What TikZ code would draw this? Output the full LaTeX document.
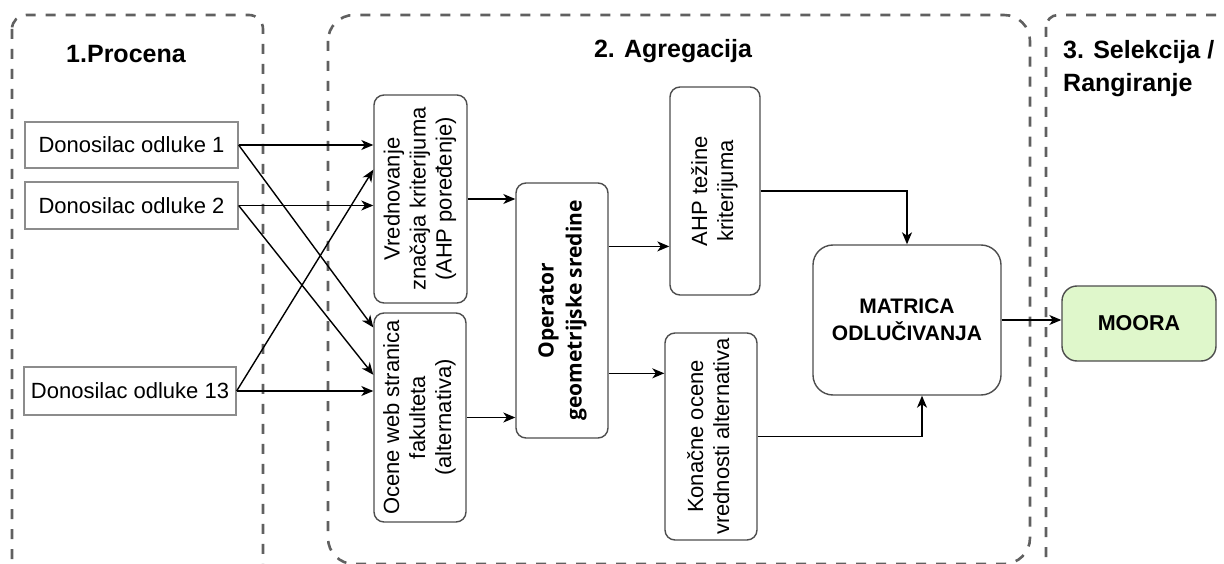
\documentclass[tikz,border=0pt]{standalone}
\usepackage{fontspec}
\setmainfont{Liberation Sans}
\newfontfamily\opfont{Open Sans}
\usetikzlibrary{arrows.meta,calc}
\definecolor{zonegray}{HTML}{606060}
\definecolor{edgegray}{HTML}{4D4D4D}
\definecolor{inputgray}{HTML}{8C8C8C}
\definecolor{mooragreen}{HTML}{DFF7CB}
\begin{document}
\begin{tikzpicture}[x=1pt,y=-1pt,
  zone/.style={draw=zonegray, line width=2.6pt, dash pattern=on 10pt off 10pt},
  title/.style={font=\fontsize{25}{33}\selectfont\bfseries, anchor=base, inner sep=0pt},
  inbox/.style={draw=inputgray, line width=1.3pt, inner sep=0pt,
    font=\fontsize{22}{26}\selectfont},
  stepbox/.style={draw=edgegray, line width=1.4pt, rounded corners=10pt, inner sep=0pt,
    font=\fontsize{22}{26}\selectfont, align=center},
  flow/.style={draw=black, line width=1.4pt, -{Stealth[length=12pt,width=10pt,inset=3.5pt]}},
]
\useasboundingbox (0,0) rectangle (1224,564);
\clip (0,0) rectangle (1224,564);

% phase zones
\draw[zone, rounded corners=14pt] (12,15) rectangle (263,582);
\draw[zone, rounded corners=26pt] (328,15) rectangle (1030,564);
\draw[zone, rounded corners=12pt] (1046,15) rectangle (1270,620);

% phase titles
\node[title] (t1) at (126,63) {1.Procena};
\node[title] (t2) at (673,58) {2. Agregacija};
\node[title, anchor=base west] (t3a) at (1063,59) {3. Selekcija /};
\node[title, anchor=base west] (t3b) at (1063,92) {Rangiranje};

% decision makers
\node[inbox, minimum width=213pt, minimum height=46pt] (d1) at (131.5,145) {Donosilac odluke 1};
\node[inbox, minimum width=213pt, minimum height=47pt] (d2) at (131.5,205.5) {Donosilac odluke 2};
\node[inbox, minimum width=212pt, minimum height=48pt] (d13) at (130,391) {Donosilac odluke 13};

% aggregation steps
\node[stepbox, minimum width=93pt, minimum height=208pt] (vred) at (420.5,199)
  {\rotatebox{90}{\begin{tabular}{@{}c@{}}Vrednovanje\\ značaja kriterijuma\\ (AHP poređenje)\end{tabular}}};
\node[stepbox, minimum width=92pt, minimum height=209pt] (oc) at (420,417.5)
  {\rotatebox{90}{\begin{tabular}{@{}c@{}}Ocene web stranica\\ fakulteta\\ (alternativa)\end{tabular}}};
\node[stepbox, minimum width=92pt, minimum height=255pt] (op) at (562,310.5)
  {\rotatebox{90}{\opfont\bfseries\fontsize{21}{28}\selectfont\begin{tabular}{@{}c@{}}Operator\\ geometrijske sredine\end{tabular}}};
\node[stepbox, minimum width=90pt, minimum height=208pt] (ahp) at (715,191)
  {\rotatebox{90}{\begin{tabular}{@{}c@{}}AHP težine\\ kriterijuma\end{tabular}}};
\node[stepbox, minimum width=92pt, minimum height=207pt] (kon) at (711,436.5)
  {\rotatebox{90}{\begin{tabular}{@{}c@{}}Konačne ocene\\ vrednosti alternativa\end{tabular}}};
\node[stepbox, rounded corners=20pt, minimum width=188pt, minimum height=150pt,
  font=\fontsize{21}{27}\selectfont\bfseries] (mat) at (907,320) {MATRICA\\ODLUČIVANJA};

% selection
\node[stepbox, rounded corners=15pt, fill=mooragreen, minimum width=154pt, minimum height=75pt,
  font=\fontsize{21.5}{26}\selectfont\bfseries] (moora) at (1139,323.5) {MOORA};

% connectors
\draw[flow] (d1.east) -- (d1.east -| vred.west);
\draw[flow] (d1.east) -- ($(oc.north west)!0.072!(oc.south west)$);
\draw[flow] (d2.east) -- (d2.east -| vred.west);
\draw[flow] (d2.east) -- ($(oc.north west)!0.297!(oc.south west)$);
\draw[flow] (d13.east) -- ($(vred.north west)!0.36!(vred.south west)$);
\draw[flow] (d13.east) -- (d13.east -| oc.west);
\draw[flow] (vred.east) -- (vred.east -| op.west);
\draw[flow] (oc.east) -- (oc.east -| op.west);
\coordinate (opA) at ($(op.north east)!0.25!(op.south east)$);
\coordinate (opB) at ($(op.north east)!0.745!(op.south east)$);
\draw[flow] (opA) -- (opA -| ahp.west);
\draw[flow] (opB) -- (opB -| kon.west);
\draw[flow] (ahp.east) -| (mat.north);
\draw[flow] (kon.east) -| ($(mat.south)+(15,0)$);
\draw[flow] (mat.east) -- (mat.east -| moora.west);
\end{tikzpicture}
\end{document}
